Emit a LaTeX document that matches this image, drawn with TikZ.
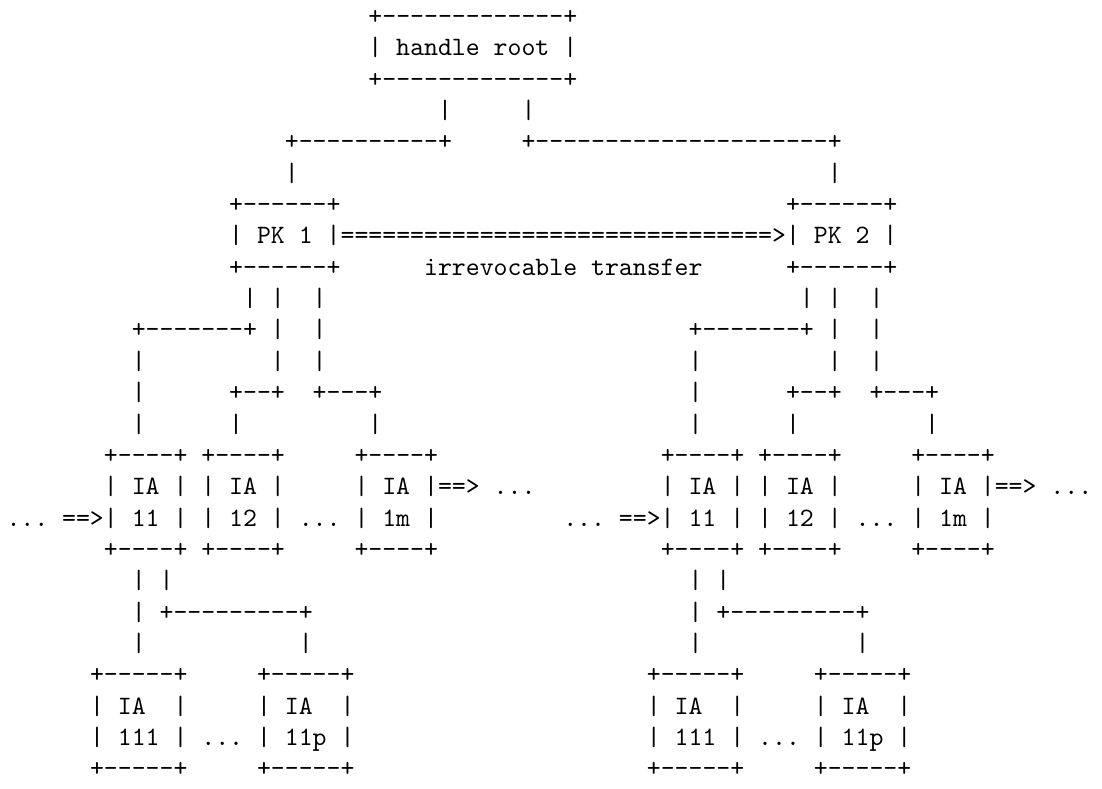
\documentclass[tikz,border=0pt]{standalone}
\usepackage[OT1]{fontenc}
\renewcommand{\ttdefault}{cmtt}
\begin{document}
\begin{tikzpicture}[x=5.25pt, y=-11.82pt,
    ascii/.style={anchor=base west, inner sep=0pt, outer sep=0pt, font=\ttfamily\frenchspacing}]
  \useasboundingbox (-0.467,-0.785) rectangle (78.70,24.36);
  % handle root and its two branches
  \node[ascii] (roottop) at (26,0) {+-------------+};
  \node[ascii] (root) at (26,1) {| handle root |};
  \node[ascii] (rootbot) at (26,2) {+-------------+};
  \node[ascii] (branchl) at (20,4) {+----------+};
  \node[ascii] (branchr) at (37,4) {+---------------------+};
  \foreach \c/\r in {31/3, 37/3, 20/5, 59/5}
    \node[ascii] (bar-\c-\r) at (\c,\r) {|};
  % the two PKs
  \node[ascii] (pk1top) at (16,6) {+------+};
  \node[ascii] (pk1) at (16,7) {| PK 1 |};
  \node[ascii] (pk1bot) at (16,8) {+------+};
  \node[ascii] (pk2top) at (56,6) {+------+};
  \node[ascii] (pk2) at (56,7) {| PK 2 |};
  \node[ascii] (pk2bot) at (56,8) {+------+};
  \node[ascii] (transfer) at (24,7) {===============================>};
  \node[ascii] (transferlabel) at (30,8) {irrevocable transfer};
  % one IA tree below each PK
  \foreach \s/\k in {0/1, 40/2} {
    \begin{scope}[xshift=\s*5.25pt]
      \foreach \c/\r in {17/9, 19/9, 22/9, 19/10, 22/10, 9/11, 19/11, 22/11,
                         9/12, 9/13, 16/13, 26/13, 9/18, 11/18, 9/19, 9/20, 21/20}
        \node[ascii] (bar-\c-\r-\k) at (\c,\r) {|};
      \node[ascii] (fork-\k) at (9,10) {+-------+};
      \node[ascii] (forkb-\k) at (16,12) {+--+};
      \node[ascii] (forkc-\k) at (22,12) {+---+};
      % IA 11, 12, 1m
      \node[ascii] (ia11top-\k) at (7,14) {+----+};
      \node[ascii] (ia12top-\k) at (14,14) {+----+};
      \node[ascii] (ia1mtop-\k) at (25,14) {+----+};
      \node[ascii] (ia11a-\k) at (7,15) {| IA |};
      \node[ascii] (ia12a-\k) at (14,15) {| IA |};
      \node[ascii] (ia1ma-\k) at (25,15) {| IA |==> ...};
      \node[ascii] (ia11b-\k) at (0,16) {... ==>| 11 |};
      \node[ascii] (ia12b-\k) at (14,16) {| 12 |};
      \node[ascii] (dotsa-\k) at (21,16) {...};
      \node[ascii] (ia1mb-\k) at (25,16) {| 1m |};
      \node[ascii] (ia11bot-\k) at (7,17) {+----+};
      \node[ascii] (ia12bot-\k) at (14,17) {+----+};
      \node[ascii] (ia1mbot-\k) at (25,17) {+----+};
      \node[ascii] (forkd-\k) at (11,19) {+---------+};
      % IA 111, 11p
      \node[ascii] (ia111top-\k) at (6,21) {+-----+};
      \node[ascii] (ia11ptop-\k) at (18,21) {+-----+};
      \node[ascii] (ia111a-\k) at (6,22) {| IA~~|};
      \node[ascii] (ia11pa-\k) at (18,22) {| IA~~|};
      \node[ascii] (ia111b-\k) at (6,23) {| 111 |};
      \node[ascii] (dotsb-\k) at (14,23) {...};
      \node[ascii] (ia11pb-\k) at (18,23) {| 11p |};
      \node[ascii] (ia111bot-\k) at (6,24) {+-----+};
      \node[ascii] (ia11pbot-\k) at (18,24) {+-----+};
    \end{scope}
  }
\end{tikzpicture}
\end{document}
